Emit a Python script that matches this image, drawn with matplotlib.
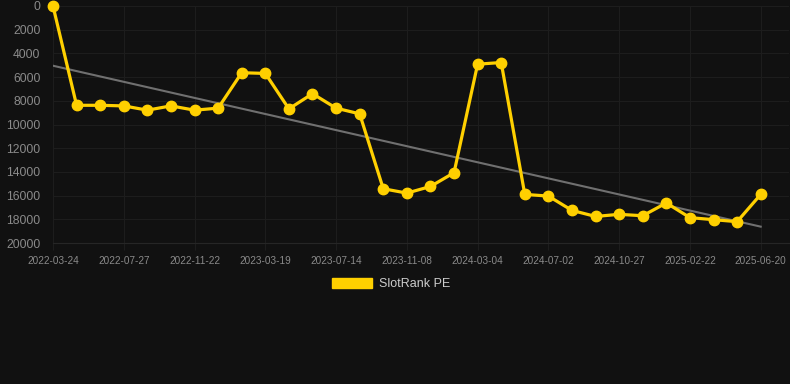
import matplotlib
matplotlib.use("Agg")
from matplotlib import pyplot as plt
from matplotlib.patches import Patch

# tick labels shown on the x axis (every third point)
tick_dates = ["2022-03-24", "2022-07-27", "2022-11-22", "2023-03-19", "2023-07-14",
              "2023-11-08", "2024-03-04", "2024-07-02", "2024-10-27", "2025-02-22",
              "2025-06-20"]

# rank values (lower is better, axis inverted)
ranks = [0, 8380, 8380, 8430, 8790, 8430, 8790, 8620, 5630, 5690,
         8680, 7400, 8620, 9100, 15420, 15790, 15230, 14070, 4910, 4770,
         15900, 16040, 17250, 17760, 17580, 17700, 16620, 17860, 18030, 18200,
         15900]

# trend line end values
trend = [5040, 18620]

bg = "#111111"
gold = "#FFD000"
grid = "#1d1d1d"
txt = "#8a8a8a"

plt.rcParams["font.family"] = ["Liberation Sans", "DejaVu Sans"]

fig = plt.figure(figsize=(7.9, 3.84), dpi=100, facecolor=bg)
ax = fig.add_axes([53 / 790, 141 / 384, 736 / 790, 237 / 384], facecolor=bg)

x = list(range(len(ranks)))
ax.plot([x[0], x[-1]], trend, color="#707070", lw=1.5, zorder=2)
ax.plot(x, ranks, color=gold, lw=2.3, marker="o", ms=7.5, zorder=3, clip_on=False)

ax.set_xlim(0, 31.2)
ax.set_ylim(20000, 0)
ax.set_yticks(range(0, 20001, 2000))
ax.set_xticks(x[::3])
ax.set_xticklabels(tick_dates)

ax.grid(True, color=grid, lw=0.8)
for s in ax.spines.values():
    s.set_visible(False)
ax.spines["bottom"].set_visible(True)
ax.spines["bottom"].set_color("#262626")
ax.tick_params(axis="y", length=0, pad=9, labelsize=8.7, labelcolor=txt)
ax.tick_params(axis="x", length=5, color=grid, pad=4, labelsize=7.2, labelcolor=txt)

fig.legend(handles=[Patch(color=gold, label="SlotRank PE")], loc="center",
           bbox_to_anchor=(0.495, 1 - 284 / 384), frameon=False,
           handlelength=3.2, handleheight=0.95, handletextpad=0.5,
           fontsize=9, labelcolor="#cccccc")

fig.savefig("out.png", dpi=100, facecolor=bg)
